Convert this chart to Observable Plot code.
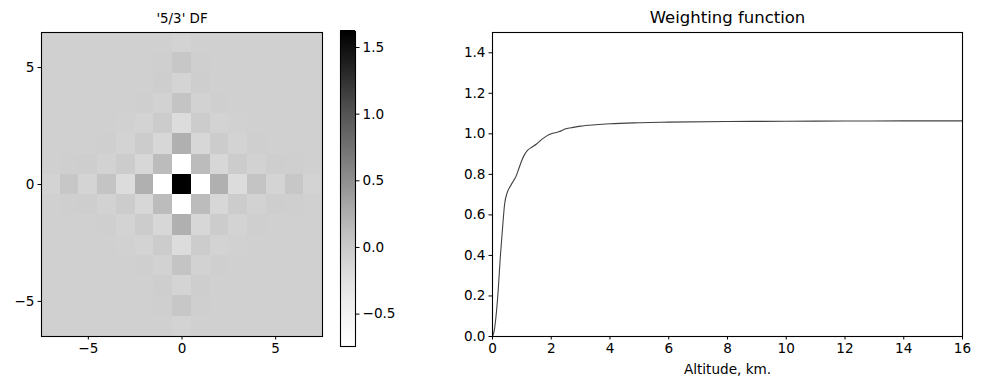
<!DOCTYPE html>
<html><head><meta charset="utf-8">
<script src="https://cdn.jsdelivr.net/npm/d3@7"></script>
<script src="https://cdn.jsdelivr.net/npm/@observablehq/plot@0.6"></script>
<style>
body{margin:0;background:#fff;}
#wrap{position:relative;width:981px;height:389px;overflow:hidden;font-family:"DejaVu Sans",sans-serif;}
#wrap > svg{position:absolute;top:0;}
</style></head><body><div id="wrap"></div>
<script>
// ---------- left panel: '5/3' DF kernel (15 x 15 cells, top row first) ----------
const dfTitle = "'5/3' DF";
const dfExtentX = [-7.5, 7.5];
const dfExtentY = [-6.5, 6.5];
const dfRows = [
  [-0.06,-0.06,-0.06,-0.06,-0.06,-0.06,-0.06,-0.09,-0.06,-0.06,-0.06,-0.06,-0.06,-0.06,-0.06],
  [-0.06,-0.06,-0.06,-0.06,-0.06,-0.06,-0.05, 0.03,-0.05,-0.06,-0.06,-0.06,-0.06,-0.06,-0.06],
  [-0.06,-0.06,-0.06,-0.06,-0.06,-0.06,-0.04,-0.11,-0.04,-0.06,-0.06,-0.06,-0.06,-0.06,-0.06],
  [-0.06,-0.06,-0.06,-0.06,-0.06,-0.05,-0.08, 0.06,-0.08,-0.05,-0.06,-0.06,-0.06,-0.06,-0.06],
  [-0.06,-0.06,-0.06,-0.06,-0.07,-0.09,-0.02,-0.20,-0.02,-0.09,-0.07,-0.06,-0.06,-0.06,-0.06],
  [-0.06,-0.06,-0.06,-0.05,-0.09,-0.02,-0.14, 0.24,-0.14,-0.02,-0.09,-0.05,-0.06,-0.06,-0.06],
  [-0.06,-0.05,-0.04,-0.08,-0.02,-0.14, 0.14,-0.74, 0.14,-0.14,-0.02,-0.08,-0.04,-0.05,-0.06],
  [-0.09, 0.03,-0.11, 0.06,-0.20, 0.24,-0.74, 1.62,-0.74, 0.24,-0.20, 0.06,-0.11, 0.03,-0.09],
  [-0.06,-0.05,-0.04,-0.08,-0.02,-0.14, 0.14,-0.74, 0.14,-0.14,-0.02,-0.08,-0.04,-0.05,-0.06],
  [-0.06,-0.06,-0.06,-0.05,-0.09,-0.02,-0.14, 0.24,-0.14,-0.02,-0.09,-0.05,-0.06,-0.06,-0.06],
  [-0.06,-0.06,-0.06,-0.06,-0.07,-0.09,-0.02,-0.20,-0.02,-0.09,-0.07,-0.06,-0.06,-0.06,-0.06],
  [-0.06,-0.06,-0.06,-0.06,-0.06,-0.05,-0.08, 0.06,-0.08,-0.05,-0.06,-0.06,-0.06,-0.06,-0.06],
  [-0.06,-0.06,-0.06,-0.06,-0.06,-0.06,-0.04,-0.11,-0.04,-0.06,-0.06,-0.06,-0.06,-0.06,-0.06],
  [-0.06,-0.06,-0.06,-0.06,-0.06,-0.06,-0.05, 0.03,-0.05,-0.06,-0.06,-0.06,-0.06,-0.06,-0.06],
  [-0.06,-0.06,-0.06,-0.06,-0.06,-0.06,-0.06,-0.09,-0.06,-0.06,-0.06,-0.06,-0.06,-0.06,-0.06]
];
const dfRange = [-0.743, 1.62];
const dfTicks = [-5, 0, 5];
const cbTicks = [-0.5, 0, 0.5, 1.0, 1.5];

// ---------- right panel: weighting function ----------
const wfTitle = "Weighting function";
const wfXLabel = "Altitude, km.";
const altitude = [0, 0.06, 0.12, 0.18, 0.27, 0.35, 0.41, 0.5, 0.6, 0.7, 0.8, 0.9, 1.0, 1.1, 1.2, 1.35, 1.5, 1.7, 1.85, 2.0, 2.25, 2.5, 2.75, 3.0, 3.5, 4.0, 5.0, 6.0, 8.0, 10.0, 12.0, 14.0, 16.0];
const weight   = [0, 0.03, 0.10, 0.20, 0.40, 0.55, 0.65, 0.71, 0.74, 0.765, 0.79, 0.83, 0.87, 0.90, 0.92, 0.935, 0.95, 0.975, 0.99, 1.0, 1.01, 1.025, 1.032, 1.038, 1.045, 1.05, 1.055, 1.058, 1.061, 1.062, 1.063, 1.064, 1.064];
const wfXDomain = [0, 16];
const wfYDomain = [0, 1.5];
const wfXTicks = [0, 2, 4, 6, 8, 10, 12, 14, 16];
const wfYTicks = [0, 0.2, 0.4, 0.6, 0.8, 1.0, 1.2, 1.4];

// ---------- helpers ----------
const minus = d => (d < 0 ? "\u2212" : "") + Math.abs(d);
const minus1 = d => (d < 0 ? "\u2212" : "") + Math.abs(d).toFixed(1);
const font = {fontFamily: "DejaVu Sans", fontSize: "13.6px", color: "black", background: "transparent", overflow: "visible"};
const colorScale = {type: "linear", scheme: "greys", domain: dfRange};

// build the cell table from the rows (imshow-like extent)
const nR = dfRows.length, nC = dfRows[0].length;
const cw = (dfExtentX[1] - dfExtentX[0]) / nC, ch = (dfExtentY[1] - dfExtentY[0]) / nR;
const cells = [];
dfRows.forEach((row, j) => row.forEach((v, i) => cells.push({
  x1: dfExtentX[0] + i * cw, x2: dfExtentX[0] + (i + 1) * cw,
  y2: dfExtentY[1] - j * ch, y1: dfExtentY[1] - (j + 1) * ch, v
})));

const wrap = document.getElementById("wrap");

const left = Plot.plot({
  width: 330, height: 389,
  marginLeft: 41, marginRight: 8, marginTop: 32, marginBottom: 53,
  style: font,
  x: {domain: dfExtentX},
  y: {domain: dfExtentY},
  color: colorScale,
  marks: [
    Plot.rect(cells, {x1: "x1", x2: "x2", y1: "y1", y2: "y2", fill: "v", shapeRendering: "crispEdges"}),
    Plot.frame({stroke: "black", strokeWidth: 1.1}),
    Plot.axisX({ticks: dfTicks, tickSize: 3.5, tickPadding: 3.5, tickFormat: minus, label: null}),
    Plot.axisY({ticks: dfTicks, tickSize: 3.5, tickPadding: 3.5, tickFormat: minus, label: null}),
    Plot.text([dfTitle], {frameAnchor: "top", dy: -14, lineAnchor: "middle", text: d => d, fontSize: 13.4})
  ]
});
left.style.left = "0px";
wrap.appendChild(left);

// colour bar (gradient drawn as thin slices of the colour scale)
const cbN = 315;
const cbStep = (dfRange[1] - dfRange[0]) / cbN;
const cbSlices = d3.range(cbN).map(k => dfRange[0] + cbStep * k);
const cbar = Plot.plot({
  width: 65, height: 389,
  marginLeft: 10, marginRight: 40, marginTop: 31, marginBottom: 43,
  style: font,
  x: {domain: [0, 1], axis: null},
  y: {domain: dfRange},
  color: colorScale,
  marks: [
    Plot.rect(cbSlices, {x1: 0, x2: 1, y1: d => d, y2: d => d + cbStep * 2, fill: d => d + cbStep / 2, shapeRendering: "crispEdges"}),
    Plot.frame({stroke: "black", strokeWidth: 1.1}),
    Plot.axisY({anchor: "right", ticks: cbTicks, tickSize: 3.5, tickPadding: 3.5, tickFormat: minus1, label: null})
  ]
});
cbar.style.left = "330px";
wrap.appendChild(cbar);

// weighting function
const wf = altitude.map((a, i) => ({a, w: weight[i]}));
const right = Plot.plot({
  width: 541, height: 389,
  marginLeft: 52, marginRight: 19, marginTop: 32, marginBottom: 53,
  style: font,
  x: {domain: wfXDomain},
  y: {domain: wfYDomain},
  marks: [
    Plot.line(wf, {x: "a", y: "w", stroke: "#404040", strokeWidth: 1.1, curve: "monotone-x"}),
    Plot.frame({stroke: "black", strokeWidth: 1.1}),
    Plot.axisX({ticks: wfXTicks, tickSize: 3.5, tickPadding: 3.5, tickFormat: d => String(d), label: null}),
    Plot.axisY({ticks: wfYTicks, tickSize: 3.5, tickPadding: 3.5, tickFormat: d => d.toFixed(1), label: null}),
    Plot.text([wfTitle], {frameAnchor: "top", dy: -15, lineAnchor: "middle", text: d => d, fontSize: 16.5}),
    Plot.text([wfXLabel], {frameAnchor: "bottom", dy: 28, lineAnchor: "top", text: d => d, fontSize: 13.6})
  ]
});
right.style.left = "440px";
wrap.appendChild(right);
</script>
</body></html>
